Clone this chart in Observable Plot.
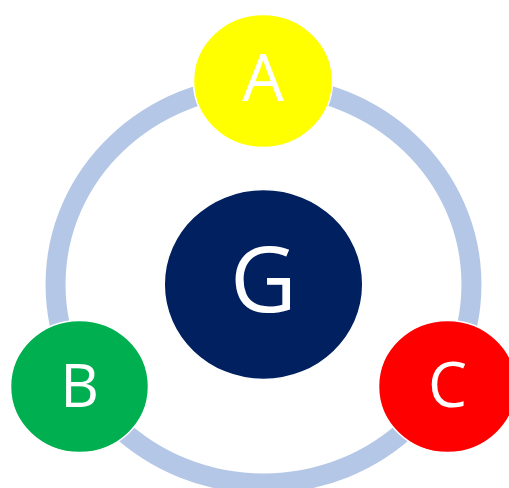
<!DOCTYPE html>
<html>
<head>
<meta charset="utf-8">
<script src="https://cdn.jsdelivr.net/npm/d3@7"></script>
<script src="https://cdn.jsdelivr.net/npm/@observablehq/plot@0.6"></script>
<style>
  html, body { margin: 0; padding: 0; background: #fff; overflow: hidden; }
</style>
</head>
<body>
<div id="chart"></div>
<script>
// Diagram nodes (data coordinates, y downward)
const labels  = ["G", "A", "B", "C"];
const nodeX   = [263, 262.5, 79, 447];
const nodeY   = [284, 80.5, 386, 386];
const nodeR   = [95, 66.5, 66, 66];
const labelY  = [282, 79, 387, 387];
const labelSize = [92, 66, 60, 62];
const colors  = ["#002060", "#FFFF00", "#00B050", "#FF0000"];

// Ring connecting the outer nodes
const ringX = [263];
const ringY = [284];
const ringR = [199];

const nodes = labels.map((name, i) => ({name, x: nodeX[i], y: nodeY[i], r: nodeR[i], ly: labelY[i], fs: labelSize[i]}));
const ring = ringX.map((x, i) => ({x, y: ringY[i], r: ringR[i]}));

// slightly wide ellipse symbol (r = vertical radius)
const aspect = 1.045;
const ellipse = {
  draw(ctx, size) {
    const ry = Math.sqrt(size / Math.PI), rx = ry * aspect, c = 0.5523;
    ctx.moveTo(rx, 0);
    ctx.bezierCurveTo(rx, ry * c, rx * c, ry, 0, ry);
    ctx.bezierCurveTo(-rx * c, ry, -rx, ry * c, -rx, 0);
    ctx.bezierCurveTo(-rx, -ry * c, -rx * c, -ry, 0, -ry);
    ctx.bezierCurveTo(rx * c, -ry, rx, -ry * c, rx, 0);
    ctx.closePath();
  }
};

const chart = Plot.plot({
  width: 509,
  height: 488,
  margin: 0,
  style: {overflow: "hidden", background: "#fff"},
  x: {domain: [0, 509], range: [0, 509], axis: null},
  y: {domain: [0, 488], range: [0, 488], axis: null},
  r: {type: "identity"},
  color: {domain: labels, range: colors},
  marks: [
    Plot.dot(ring, {x: "x", y: "y", r: "r", symbol: ellipse, fill: "none", stroke: "#B4C7E7", strokeWidth: 20}),
    Plot.dot(nodes, {x: "x", y: "y", r: "r", symbol: ellipse, fill: "name", stroke: "#fff", strokeWidth: 1.5}),
    ...nodes.map(n => Plot.text([n], {x: "x", y: "ly", text: "name", fill: "#fff", fontSize: n.fs, fontFamily: "Open Sans", textAnchor: "middle"}))
  ]
});
document.getElementById("chart").appendChild(chart);
</script>
</body>
</html>
